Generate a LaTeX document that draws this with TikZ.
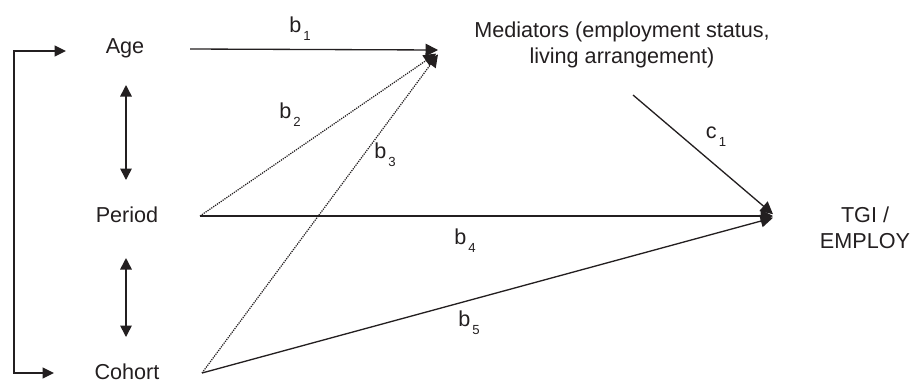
\documentclass[tikz,border=0pt]{standalone}
\usepackage{fontspec}
\setmainfont{Liberation Sans}
\usetikzlibrary{arrows.meta}
\definecolor{inkGray}{HTML}{231F20}

\newcommand{\pcoef}[2]{#1\kern1.2pt\raisebox{-0.7ex}{\fontsize{7.5pt}{8pt}\selectfont #2}}

\begin{document}
\begin{tikzpicture}[x=0.02cm, y=-0.02cm, color=inkGray,
        var/.style={font=\fontsize{12.3pt}{14.5pt}\selectfont, align=center, inner sep=0pt},
        coef/.style={font=\fontsize{12.3pt}{14pt}\selectfont, inner sep=0pt},
        effect/.style={-{Triangle[length=2.5mm,width=2.5mm]}, line width=0.75pt},
        doteffect/.style={effect, line width=0.7pt, dash pattern=on 0.7pt off 0.6pt},
        assoc/.style={{Triangle[length=2.3mm,width=2.3mm]}-{Triangle[length=2.3mm,width=2.3mm]}, line width=0.9pt},
        bracket/.style={{Triangle[length=2.3mm,width=2.2mm]}-{Triangle[length=2.3mm,width=2.2mm]}, line width=0.8pt}
      ]
        \useasboundingbox (0,0) rectangle (911,383);
        % variables
        \node[var] (age) at (125,48) {Age};
        \node[var] (period) at (127,215) {Period};
        \node[var] (cohort) at (127,372) {Cohort};
        \node[var] (med) at (622,45) {Mediators (employment status,\\living arrangement)};
        \node[var] (tgi) at (865,228) {TGI /\\EMPLOY};
        % connector ends
        \coordinate (ageout) at (190,49);
        \coordinate (periodout) at (200,216);
        \coordinate (cohortout) at (202,373);
        \coordinate (medin) at (438,50);
        \coordinate (medout) at (633,95);
        \coordinate (tgiin) at (773,216);
        \coordinate (agein) at (66,51);
        \coordinate (cohortin) at (54,373);
        \coordinate (ap1) at (126,85);
        \coordinate (ap2) at (126,180);
        \coordinate (pc1) at (126,258);
        \coordinate (pc2) at (126,337);
        % paths
        \draw[effect] (ageout) -- (medin);
        \draw[doteffect] (periodout) -- ([xshift=-1pt,yshift=-2pt]medin);
        \draw[doteffect] (cohortout) -- ([yshift=-2.5pt]medin);
        \draw[effect] (periodout) -- (tgiin);
        \draw[effect] (cohortout) -- ([yshift=-1pt]tgiin);
        \draw[effect] (medout) -- ([yshift=1pt]tgiin);
        \draw[assoc] (ap1) -- (ap2);
        \draw[assoc] (pc1) -- (pc2);
        \draw[bracket] (agein) -| (14,212) |- (cohortin);
        % coefficients
        \node[coef] (b1) at (300,29) {\pcoef{b}{1}};
        \node[coef] (b2) at (290,115) {\pcoef{b}{2}};
        \node[coef] (b3) at (385,155) {\pcoef{b}{3}};
        \node[coef] (b4) at (465,241) {\pcoef{b}{4}};
        \node[coef] (b5) at (469,323) {\pcoef{b}{5}};
        \node[coef] (c1) at (716,137) {\pcoef{c}{1}};
      \end{tikzpicture}
\end{document}
